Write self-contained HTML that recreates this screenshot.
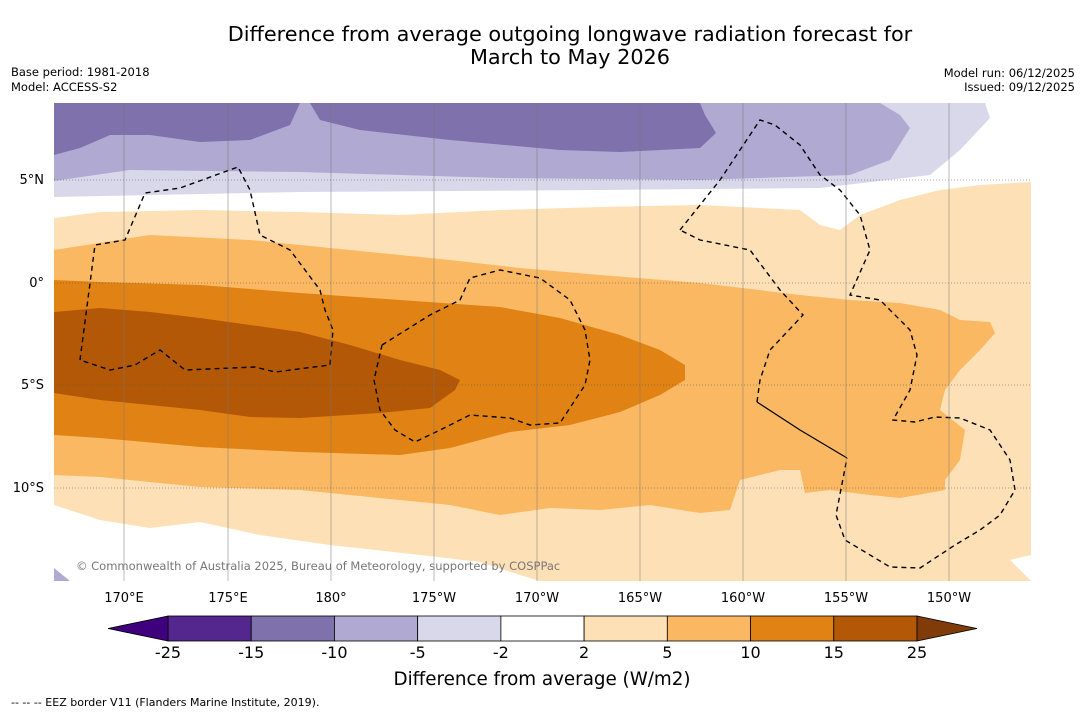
<!DOCTYPE html>
<html><head><meta charset="utf-8"><style>
body{margin:0;background:#fff;font-family:"Liberation Sans","DejaVu Sans",sans-serif;}
svg{display:block}
</style></head><body>
<svg width="1085" height="713" viewBox="0 0 1085 713" font-family="'DejaVu Sans','Liberation Sans',sans-serif">
<text x="570" y="41" font-size="20.8" text-anchor="middle">Difference from average outgoing longwave radiation forecast for</text>
<text x="570" y="64" font-size="20.8" text-anchor="middle">March to May 2026</text>
<text x="11" y="76" font-size="11.5">Base period: 1981-2018</text>
<text x="11" y="91" font-size="11.5">Model: ACCESS-S2</text>
<text x="1075" y="77" font-size="11.5" text-anchor="end">Model run: 06/12/2025</text>
<text x="1075" y="91" font-size="11.5" text-anchor="end">Issued: 09/12/2025</text>

<g>
<clipPath id="mc"><rect x="54" y="103" width="977" height="478"/></clipPath>
<g clip-path="url(#mc)">
<rect x="54" y="103" width="977" height="478" fill="#fff"/>
<polygon fill="#d8d8ea" points="54,103 985,103 990,118 960,150 930,175 820,188 600,190 300,192 54,197"/>
<polygon fill="#b0a9d2" points="54,103 880,103 900,115 910,128 890,160 850,175 700,180 500,178 300,172 130,170 54,181"/>
<polygon fill="#7f71ac" points="54,103 300,103 290,125 250,140 200,142 150,135 110,135 80,148 54,155"/>
<polygon fill="#7f71ac" points="310,103 700,103 705,115 716,133 700,148 620,152 560,150 450,140 360,130 320,120"/>
<polygon fill="#fde0b5" points="54,218 100,212 200,210 300,212 400,215 500,210 600,207 700,205 800,210 820,225 840,230 860,215 900,200 940,190 980,185 1031,182 1031,555 1010,560 1031,581 540,581 520,575 480,562 420,555 330,545 260,535 200,522 150,528 100,520 54,505"/>
<polygon fill="#fbb862" points="54,250 150,235 250,240 350,250 450,260 520,268 600,275 700,283 800,295 850,300 900,303 940,310 960,320 990,322 995,333 980,350 960,370 945,390 940,410 965,430 960,460 945,480 945,490 900,498 870,495 830,490 805,493 800,470 780,470 740,480 730,510 700,513 650,505 600,510 550,508 500,515 450,505 400,500 300,490 200,487 100,477 54,475"/>
<polygon fill="#e08214" points="54,280 100,282 200,285 300,293 400,300 500,307 560,318 620,335 660,350 685,365 685,380 660,395 620,412 570,425 510,432 450,448 400,455 300,452 200,447 100,438 54,435"/>
<polygon fill="#b35806" points="54,312 100,308 150,312 200,318 250,325 300,332 350,345 400,360 440,370 460,380 455,390 430,408 380,413 300,418 250,417 200,410 150,405 100,400 54,393"/>
<polygon fill="#b0a9d2" points="54,568 70,581 54,581"/>
<g fill="none" stroke="#000" stroke-width="1.4" stroke-dasharray="5,4">
<polyline points="80,360 95,245 125,240 145,193 180,188 238,167 250,190 260,235 290,250 320,290 325,310 333,330 330,365 275,372 255,367 185,370 160,350 135,365 110,370 80,360"/>
<polyline points="382,345 430,315 460,300 470,278 500,270 540,278 570,300 585,330 590,360 585,385 560,423 530,425 510,418 470,415 440,430 415,442 395,430 380,410 374,380 382,345"/>
<polyline points="680,230 720,180 760,120 775,125 800,145 820,175 840,190 860,215 870,250 850,295 880,300 910,330 917,355 910,390 893,420 915,422 935,417 960,418 990,430 1010,460 1015,490 1000,515 980,530 955,545 920,568 890,567 845,540 836,515 847,458"/>
<polyline points="757,402 760,380 770,350 803,315 780,290 750,250 700,240 680,230"/>
</g>
<polyline points="757,402 800,430 847,458" fill="none" stroke="#000" stroke-width="1.2"/>
<g stroke="#777" stroke-width="0.5">
<line x1="124" y1="103" x2="124" y2="581"/><line x1="228" y1="103" x2="228" y2="581"/><line x1="331" y1="103" x2="331" y2="581"/><line x1="434" y1="103" x2="434" y2="581"/><line x1="537" y1="103" x2="537" y2="581"/><line x1="640" y1="103" x2="640" y2="581"/><line x1="743" y1="103" x2="743" y2="581"/><line x1="846" y1="103" x2="846" y2="581"/><line x1="949" y1="103" x2="949" y2="581"/>
<g stroke-dasharray="1,2" stroke="#555"><line x1="54" y1="180" x2="1031" y2="180"/><line x1="54" y1="283" x2="1031" y2="283"/><line x1="54" y1="385" x2="1031" y2="385"/><line x1="54" y1="488" x2="1031" y2="488"/></g>
</g>
</g>
<text x="76" y="570" font-size="11.5" fill="#777">© Commonwealth of Australia 2025, Bureau of Meteorology, supported by COSPPac</text>
</g>
<g font-size="13" text-anchor="end">
<text x="44" y="184">5°N</text><text x="44" y="287">0°</text><text x="44" y="389">5°S</text><text x="44" y="492">10°S</text>
</g>
<g font-size="13" text-anchor="middle">
<text x="124" y="602">170°E</text><text x="228" y="602">175°E</text><text x="331" y="602">180°</text><text x="434" y="602">175°W</text><text x="537" y="602">170°W</text><text x="640" y="602">165°W</text><text x="743" y="602">160°W</text><text x="846" y="602">155°W</text><text x="949" y="602">150°W</text>
</g>
<g id="cbar"></g>
<text x="542" y="685" font-size="18.3" text-anchor="middle">Difference from average (W/m2)</text>
<text x="11" y="706" font-size="11">--  --  -- EEZ border V11 (Flanders Marine Institute, 2019).</text>
</svg>
<script>
const levels=["-25","-15","-10","-5","-2","2","5","10","15","25"];
const binColors=["#54278f","#7f71ac","#b0a9d2","#d8d8ea","#ffffff","#fde0b5","#fbb862","#e08214","#b35806"];
const extColors=["#3f007d","#7f3b08"];
const g=document.getElementById('cbar');const ns="http://www.w3.org/2000/svg";
const x0=168,x1=917,y0=616,h=25,w=(x1-x0)/binColors.length;
binColors.forEach((c,i)=>{const r=document.createElementNS(ns,'rect');


r.setAttribute('x',x0+i*w);r.setAttribute('y',y0);r.setAttribute('width',w);r.setAttribute('height',h);r.setAttribute('fill',c);r.setAttribute('stroke','#000');r.setAttribute('stroke-width','0.8');g.appendChild(r);});
[[x0,x0-60,extColors[0]],[x1,x1+60,extColors[1]]].forEach(a=>{const p=document.createElementNS(ns,'polygon');


p.setAttribute('points',`${a[0]},${y0} ${a[1]},${y0+h/2} ${a[0]},${y0+h}`);p.setAttribute('fill',a[2]);p.setAttribute('stroke','#000');p.setAttribute('stroke-width','0.8');g.appendChild(p);});
levels.forEach((l,i)=>{const t=document.createElementNS(ns,'text');


t.setAttribute('x',x0+i*w);t.setAttribute('y',658);t.setAttribute('font-size','16');t.setAttribute('text-anchor','middle');t.textContent=l;g.appendChild(t);});
</script>
</body></html>
